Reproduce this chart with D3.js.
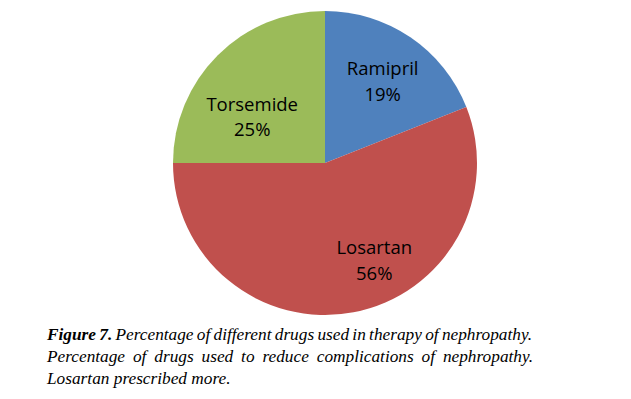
<!DOCTYPE html>
<html>
<head>
<meta charset="utf-8">
<script src="https://cdn.jsdelivr.net/npm/d3@7"></script>
<style>
  body { margin: 0; background: #fff; }
  svg { display: block; }
  .cap { font-family: "Liberation Serif", "DejaVu Serif", serif; font-style: italic; font-size: 17.3px; }
</style>
</head>
<body>
<script>
// data
var drugs = ["Ramipril", "Losartan", "Torsemide"];
var shares = [19, 56, 25];
var sliceColors = ["#4F81BD", "#C0504D", "#9BBB59"];
var captionLines = [
  "Percentage of different drugs used in therapy of nephropathy.",
  "Percentage of drugs used to reduce complications of nephropathy.",
  "Losartan prescribed more."
];

var width = 631, height = 399;
var cx = 325, cy = 163, radius = 152;

var svg = d3.select("body").append("svg")
    .attr("width", width)
    .attr("height", height);

var color = d3.scaleOrdinal().domain(drugs).range(sliceColors);

var pie = d3.pie().sort(null).value(function(d) { return d.value; });
var arc = d3.arc().innerRadius(0).outerRadius(radius);

var data = drugs.map(function(name, i) { return {name: name, value: shares[i]}; });

var g = svg.append("g").attr("transform", "translate(" + cx + "," + cy + ")");

g.selectAll(".slice")
    .data(pie(data))
    .enter().append("path")
    .attr("class", "slice")
    .attr("d", arc)
    .style("fill", function(d) { return color(d.data.name); });

// label placement, nudged a bit like Excel does
var labelArc = d3.arc().innerRadius(radius * 0.64).outerRadius(radius * 0.64);
var nudge = {Ramipril: [3, -4], Losartan: [31, -1], Torsemide: [-4, 20]};

var labels = g.selectAll(".lbl")
    .data(pie(data))
    .enter().append("text")
    .attr("class", "lbl")
    .attr("transform", function(d) {
        var c = labelArc.centroid(d), n = nudge[d.data.name];
        return "translate(" + (c[0] + n[0]) + "," + (c[1] + n[1]) + ")";
    })
    .style("text-anchor", "middle")
    .style("font-family", "'Open Sans', sans-serif")
    .style("font-size", "18.5px")
    .style("fill", "#000");

labels.append("tspan").attr("x", 0).attr("dy", "-0.2em").text(function(d) { return d.data.name; });
labels.append("tspan").attr("x", 0).attr("dy", "1.4em").text(function(d) { return d.data.value + "%"; });

// caption
var capLeft = 47, capRight = 533, capTop = 340, lineGap = 22;

var cap = svg.append("g").attr("class", "cap").style("fill", "#000");

captionLines.forEach(function(line, i) {
    var t = cap.append("text")
        .attr("x", capLeft)
        .attr("y", capTop + i * lineGap);
    if (i == 0) {
        t.append("tspan").style("font-weight", "bold").text("Figure 7.");
        t.append("tspan").text(" " + line);
    } else {
        t.text(line);
    }
    // justify all but last line
    if (i < captionLines.length - 1) {
        var w = t.node().getComputedTextLength();
        var spaces = (i == 0 ? line.split(" ").length : line.split(" ").length - 1);
        var ws = (capRight - capLeft - w) / spaces;
        t.style("word-spacing", Math.max(ws, -1.5) + "px");
    }
});
</script>
</body>
</html>
